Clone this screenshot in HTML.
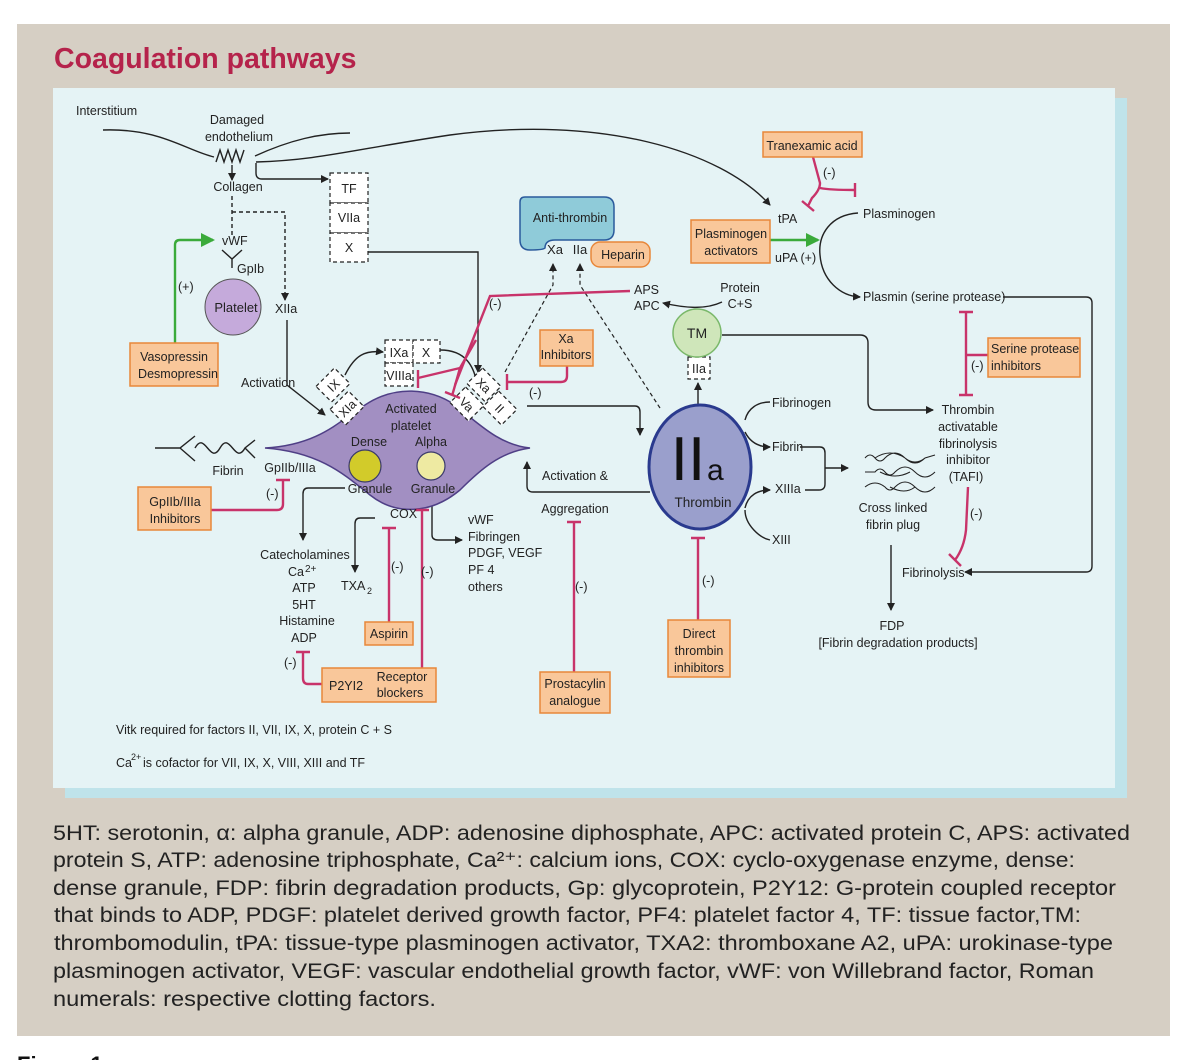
<!DOCTYPE html>
<html><head><meta charset="utf-8"><style>
html,body{margin:0;padding:0;background:#fff;}
svg{display:block;font-family:"Liberation Sans",Arial,sans-serif;}
</style></head><body>
<svg width="1200" height="1060" viewBox="0 0 1200 1060" xmlns="http://www.w3.org/2000/svg">
<defs>
<marker id="ah" markerWidth="8" markerHeight="8" refX="7" refY="4" orient="auto" markerUnits="userSpaceOnUse"><path d="M0,0 L8,4 L0,8 z" fill="#222"/></marker>
<marker id="ag" markerWidth="14" markerHeight="14" refX="12" refY="7" orient="auto" markerUnits="userSpaceOnUse"><path d="M0,0 L14,7 L0,14 z" fill="#3aaa3a"/></marker>
</defs>
<rect x="17" y="24" width="1153" height="1012" fill="#d6cfc4"/>
<text x="54" y="68" font-size="28.5" font-weight="bold" fill="#b5234b">Coagulation pathways</text>
<rect x="65" y="98" width="1062" height="700" fill="#bfe3ea"/>
<rect x="53" y="88" width="1062" height="700" fill="#e5f3f5"/>

<g font-size="12.5" fill="#222" stroke="none">
<text x="76" y="115">Interstitium</text>
<text x="237" y="124" text-anchor="middle">Damaged</text>
<text x="239" y="141" text-anchor="middle">endothelium</text>
<text x="238" y="191" text-anchor="middle">Collagen</text>
<text x="222" y="245">vWF</text>
<text x="237" y="273">GpIb</text>
<text x="178" y="291">(+)</text>
<text x="275" y="313">XIIa</text>
<text x="241" y="387">Activation</text>
</g>
<g fill="none" stroke="#222" stroke-width="1.4">
<path d="M103,130 C160,128 185,150 214,157"/>
<path d="M255,156 C290,140 320,133 350,133"/>
<path d="M216,162 l4,-12 l4,12 l4,-12 l4,12 l4,-12 l4,12 l4,-12"/>
<path d="M256,162 C320,160 350,150 450,135 C600,115 720,150 770,205" marker-end="url(#ah)"/>
<path d="M256,163 L256,173 Q256,179 262,179 L328,179" marker-end="url(#ah)"/>
<path d="M232,165 L232,180" marker-end="url(#ah)"/>
<path d="M232,196 L232,235" stroke-dasharray="4,3"/>
<path d="M232,212 L285,212 L285,300" stroke-dasharray="4,3" marker-end="url(#ah)"/>
<path d="M222,250 L232,259 L242,250 M232,259 L232,268"/>
<path d="M287,320 L287,385 L325,415" marker-end="url(#ah)"/>
<path d="M345,375 C355,355 365,350 383,352" marker-end="url(#ah)"/>
<path d="M440,350 C465,350 475,365 478,390" marker-end="url(#ah)"/>
<path d="M368,252 L478,252 L478,372" marker-end="url(#ah)"/>
<path d="M527,406 L635,406 Q640,406 640,412 L640,435" marker-end="url(#ah)"/>
<path d="M650,492 L533,492 Q527,492 527,486 L527,462" marker-end="url(#ah)"/>
<path d="M345,488 L308,488 Q303,488 303,494 L303,540" marker-end="url(#ah)"/>
<path d="M375,518 L360,518 Q355,518 355,524 L355,572" marker-end="url(#ah)"/>
<path d="M432,500 L432,535 Q432,540 438,540 L462,540" marker-end="url(#ah)"/>
<path d="M698,405 L698,383" marker-end="url(#ah)"/>
<path d="M722,302 C705,310 685,308 663,303" marker-end="url(#ah)"/>
<path d="M722,335 L860,335 Q868,335 868,343 L868,402 Q868,410 876,410 L933,410" marker-end="url(#ah)"/>
<path d="M745,420 C748,408 758,402 770,402"/>
<path d="M745,432 C750,442 758,447 770,447" marker-end="url(#ah)"/>
<path d="M745,508 C748,495 758,490 770,490" marker-end="url(#ah)"/>
<path d="M745,510 C745,525 760,538 770,540"/>
<path d="M800,447 L820,447 Q825,447 825,453 L825,484 Q825,490 819,490 L805,490"/>
<path d="M825,468 L848,468" marker-end="url(#ah)"/>
<path d="M891,545 L891,610" marker-end="url(#ah)"/>
<path d="M858,213 C830,215 818,235 820,255 C822,280 840,296 860,297" marker-end="url(#ah)"/>
<path d="M1003,297 L1086,297 Q1092,297 1092,303 L1092,566 Q1092,572 1086,572 L965,572" marker-end="url(#ah)"/>
<path d="M155,448 L180,448 L195,436 M180,448 L195,461"/>
<path d="M195,448 C205,430 210,466 220,448 C230,430 235,466 245,448 L255,440 M245,448 L255,458"/>
</g>
<g fill="none" stroke="#222" stroke-width="1.2" stroke-dasharray="4,3">
<path d="M505,372 L553,285 L553,264" marker-end="url(#ah)"/>
<path d="M660,408 L580,285 L580,264" marker-end="url(#ah)"/>
<rect x="330" y="173" width="38" height="30" fill="#fff"/>
<rect x="330" y="203" width="38" height="30" fill="#fff"/>
<rect x="330" y="233" width="38" height="29" fill="#fff"/>
<rect x="385" y="340" width="28" height="23" fill="#fff"/>
<rect x="413" y="340" width="27" height="23" fill="#fff"/>
<rect x="385" y="363" width="28" height="23" fill="#fff"/>
<rect x="688" y="357" width="22" height="22" fill="#fff"/>
</g>
<g font-size="12.5" fill="#222">
<text x="349" y="193" text-anchor="middle">TF</text>
<text x="349" y="222" text-anchor="middle">VIIa</text>
<text x="349" y="252" text-anchor="middle">X</text>
<text x="399" y="357" text-anchor="middle">IXa</text>
<text x="426" y="357" text-anchor="middle">X</text>
<text x="399" y="380" text-anchor="middle">VIIIa</text>
<text x="699" y="373" text-anchor="middle">IIa</text>
</g>
<path d="M265,448 C320,445 340,420 365,405 C395,385 430,388 455,405 C480,425 500,445 530,448 C500,452 480,470 460,490 C430,515 395,515 370,495 C345,475 320,452 265,448 z" fill="#a28fc2" stroke="#4f3f86" stroke-width="1.5"/>
<circle cx="365" cy="466" r="16" fill="#d2cb2a" stroke="#3a3a6a" stroke-width="1.2"/>
<circle cx="431" cy="466" r="14" fill="#eeeaa2" stroke="#3a3a6a" stroke-width="1.2"/>
<g font-size="12.5" fill="#222" text-anchor="middle">
<text x="411" y="413">Activated</text>
<text x="411" y="430">platelet</text>
<text x="369" y="446">Dense</text>
<text x="431" y="446">Alpha</text>
<text x="370" y="493">Granule</text>
<text x="433" y="493">Granule</text>
</g>
<g font-size="12.5" fill="#222" stroke="#222" stroke-width="1.2">
<g transform="translate(333,385) rotate(-45)"><rect x="-13" y="-11" width="26" height="22" fill="#fff" stroke-dasharray="4,3"/><text x="0" y="5" text-anchor="middle" stroke="none">IX</text></g>
<g transform="translate(347,408) rotate(-45)"><rect x="-13" y="-11" width="26" height="22" fill="#fff" stroke-dasharray="4,3"/><text x="0" y="5" text-anchor="middle" stroke="none">XIa</text></g>
<g transform="translate(484,385) rotate(45)"><rect x="-13" y="-11" width="26" height="22" fill="#fff" stroke-dasharray="4,3"/><text x="0" y="5" text-anchor="middle" stroke="none">Xa</text></g>
<g transform="translate(467,404) rotate(45)"><rect x="-13" y="-11" width="26" height="22" fill="#fff" stroke-dasharray="4,3"/><text x="0" y="5" text-anchor="middle" stroke="none">Va</text></g>
<g transform="translate(500,408) rotate(45)"><rect x="-13" y="-11" width="26" height="22" fill="#fff" stroke-dasharray="4,3"/><text x="0" y="5" text-anchor="middle" stroke="none">II</text></g>
</g>
<circle cx="233" cy="307" r="28" fill="#c5aadb" stroke="#555" stroke-width="1"/>
<text x="236" y="312" font-size="13" text-anchor="middle" fill="#222">Platelet</text>
<path d="M525,197 L604,197 Q614,197 614,207 L614,230 Q614,240 604,240 L555,240 Q545,240 545,248 Q543,250 530,250 Q520,250 520,240 L520,202 Q520,197 525,197 z" fill="#8fcbd9" stroke="#2a5a9c" stroke-width="1.5"/>
<text x="570" y="222" font-size="12.5" text-anchor="middle" fill="#222">Anti-thrombin</text>
<text x="555" y="254" font-size="13" text-anchor="middle" fill="#222">Xa</text>
<text x="580" y="254" font-size="13" text-anchor="middle" fill="#222">IIa</text>
<rect x="591" y="242" width="59" height="25" rx="9" fill="#f9c79a" stroke="#e8873a" stroke-width="1.5"/>
<text x="623" y="259" font-size="12.5" text-anchor="middle" fill="#222">Heparin</text>
<ellipse cx="700" cy="467" rx="51" ry="62" fill="#9a9fcc" stroke="#2a3a8e" stroke-width="3"/>
<text x="688" y="480" font-size="62" text-anchor="middle" fill="#111">II</text>
<text x="707" y="480" font-size="30" fill="#111">a</text>
<text x="703" y="507" font-size="13.5" text-anchor="middle" fill="#222">Thrombin</text>
<circle cx="697" cy="333" r="24" fill="#cfe6ba" stroke="#7ab86a" stroke-width="1.5"/>
<text x="697" y="338" font-size="14" text-anchor="middle" fill="#222">TM</text>
<g fill="none" stroke="#222" stroke-width="1">
<path d="M865,458 q5,-6 10,0 q5,6 10,0 q10,-10 20,0 q10,10 20,0 l10,-3 M875,458 q15,-10 30,0 q10,8 20,0"/>
<path d="M865,472 l10,0 q5,-6 10,0 q5,6 10,0 q10,-10 20,0 q10,10 20,0 M880,472 q15,8 30,0"/>
<path d="M865,487 q10,-8 20,0 q5,6 10,0 q10,-10 20,0 q10,10 20,0 M890,487 q15,8 25,0"/>
</g>
<g fill="none" stroke="#c8336a" stroke-width="2.4">
<path d="M630,291 L490,296 L455,385"/>
<path d="M476,340 L460,368 L418,378 M418,370 L418,388"/>
<path d="M460,368 L452,396 M445,392 L460,398"/>
<path d="M567,366 L567,376 Q567,382 561,382 L507,382 M507,374 L507,390"/>
<path d="M211,510 L277,510 Q283,510 283,504 L283,480 M276,480 L290,480"/>
<path d="M389,622 L389,528 M382,528 L396,528"/>
<path d="M422,668 L422,510 M415,510 L429,510"/>
<path d="M322,684 L308,684 Q303,684 303,678 L303,652 M296,652 L310,652"/>
<path d="M574,672 L574,522 M567,522 L581,522"/>
<path d="M698,620 L698,538 M691,538 L705,538"/>
<path d="M813,157 L820,183 Q820,190 812,198 L808,206 M802,201 L814,211"/>
<path d="M820,188 Q830,190 855,190 M855,183 L855,197"/>
<path d="M966,312 L966,395 M959,312 L973,312 M959,395 L973,395 M966,355 L990,355"/>
<path d="M968,487 L966,530 Q964,548 955,560 M949,554 L961,566"/>
</g>
<path d="M175,343 L175,245 Q175,240 180,240 L213,240" fill="none" stroke="#3aaa3a" stroke-width="2.4" marker-end="url(#ag)"/>
<path d="M770,240 L818,240" fill="none" stroke="#3aaa3a" stroke-width="2.4" marker-end="url(#ag)"/>
<g fill="#f9c79a" stroke="#e8873a" stroke-width="1.5">
<rect x="130" y="343" width="88" height="43"/>
<rect x="540" y="330" width="53" height="36"/>
<rect x="138" y="487" width="73" height="43"/>
<rect x="365" y="622" width="48" height="23"/>
<rect x="322" y="668" width="114" height="34"/>
<rect x="540" y="672" width="70" height="41"/>
<rect x="668" y="620" width="62" height="57"/>
<rect x="763" y="132" width="99" height="25"/>
<rect x="691" y="220" width="79" height="43"/>
<rect x="988" y="338" width="92" height="39"/>
</g>
<g font-size="12.5" fill="#222">
<text x="174" y="361" text-anchor="middle">Vasopressin</text>
<text x="178" y="378" text-anchor="middle">Desmopressin</text>
<text x="566" y="343" text-anchor="middle">Xa</text>
<text x="566" y="359" text-anchor="middle">Inhibitors</text>
<text x="175" y="506" text-anchor="middle">GpIIb/IIIa</text>
<text x="175" y="523" text-anchor="middle">Inhibitors</text>
<text x="389" y="638" text-anchor="middle">Aspirin</text>
<text x="329" y="690">P2YI2</text>
<text x="402" y="681" text-anchor="middle">Receptor</text>
<text x="400" y="697" text-anchor="middle">blockers</text>
<text x="575" y="688" text-anchor="middle">Prostacylin</text>
<text x="575" y="705" text-anchor="middle">analogue</text>
<text x="699" y="638" text-anchor="middle">Direct</text>
<text x="699" y="655" text-anchor="middle">thrombin</text>
<text x="699" y="672" text-anchor="middle">inhibitors</text>
<text x="812" y="150" text-anchor="middle">Tranexamic acid</text>
<text x="731" y="238" text-anchor="middle">Plasminogen</text>
<text x="731" y="255" text-anchor="middle">activators</text>
<text x="991" y="353">Serine protease</text>
<text x="991" y="370">inhibitors</text>
<text x="290" y="472" text-anchor="middle">GpIIb/IIIa</text>
<text x="228" y="475" text-anchor="middle">Fibrin</text>
<text x="266" y="498">(-)</text>
<text x="489" y="308">(-)</text>
<text x="529" y="397">(-)</text>
<text x="390" y="518">COX</text>
<text x="305" y="559" text-anchor="middle">Catecholamines</text>
<text x="288" y="576">Ca</text><text x="305" y="572" font-size="10">2+</text>
<text x="304" y="592" text-anchor="middle">ATP</text>
<text x="304" y="609" text-anchor="middle">5HT</text>
<text x="307" y="625" text-anchor="middle">Histamine</text>
<text x="304" y="642" text-anchor="middle">ADP</text>
<text x="341" y="590">TXA</text><text x="367" y="594" font-size="9">2</text>
<text x="391" y="571">(-)</text>
<text x="421" y="576">(-)</text>
<text x="284" y="667">(-)</text>
<text x="468" y="524">vWF</text>
<text x="468" y="541">Fibringen</text>
<text x="468" y="557">PDGF, VEGF</text>
<text x="468" y="574">PF 4</text>
<text x="468" y="591">others</text>
<text x="575" y="480" text-anchor="middle">Activation &amp;</text>
<text x="575" y="513" text-anchor="middle">Aggregation</text>
<text x="575" y="591">(-)</text>
<text x="702" y="585">(-)</text>
<text x="634" y="294">APS</text>
<text x="634" y="310">APC</text>
<text x="740" y="292" text-anchor="middle">Protein</text>
<text x="740" y="308" text-anchor="middle">C+S</text>
<text x="772" y="407">Fibrinogen</text>
<text x="772" y="451">Fibrin</text>
<text x="775" y="493">XIIIa</text>
<text x="772" y="544">XIII</text>
<text x="893" y="512" text-anchor="middle">Cross linked</text>
<text x="893" y="529" text-anchor="middle">fibrin plug</text>
<text x="892" y="630" text-anchor="middle">FDP</text>
<text x="898" y="647" text-anchor="middle">[Fibrin degradation products]</text>
<text x="778" y="223">tPA</text>
<text x="775" y="262">uPA (+)</text>
<text x="823" y="177">(-)</text>
<text x="863" y="218">Plasminogen</text>
<text x="863" y="301">Plasmin (serine protease)</text>
<text x="971" y="370">(-)</text>
<text x="968" y="414" text-anchor="middle">Thrombin</text>
<text x="968" y="431" text-anchor="middle">activatable</text>
<text x="968" y="448" text-anchor="middle">fibrinolysis</text>
<text x="968" y="464" text-anchor="middle">inhibitor</text>
<text x="966" y="481" text-anchor="middle">(TAFI)</text>
<text x="970" y="518">(-)</text>
<text x="902" y="577">Fibrinolysis</text>
<text x="116" y="734">Vitk required for factors   II, VII, IX, X, protein C + S</text>
<text x="116" y="767">Ca</text><text x="131" y="760" font-size="9">2+</text><text x="143" y="767">is cofactor for   VII, IX, X, VIII, XIII and TF</text>
</g>
<g font-size="21.5" fill="#222">
<text x="53" y="840" textLength="1077" lengthAdjust="spacingAndGlyphs">5HT: serotonin, α: alpha granule, ADP: adenosine diphosphate, APC: activated protein C, APS: activated</text>
<text x="53" y="867" textLength="1022" lengthAdjust="spacingAndGlyphs">protein S, ATP: adenosine triphosphate, Ca²⁺: calcium ions, COX: cyclo-oxygenase enzyme, dense:</text>
<text x="53" y="895" textLength="1063" lengthAdjust="spacingAndGlyphs">dense granule, FDP: fibrin degradation products, Gp: glycoprotein, P2Y12: G-protein coupled receptor</text>
<text x="54" y="922" textLength="1027" lengthAdjust="spacingAndGlyphs">that binds to ADP, PDGF: platelet derived growth factor, PF4: platelet factor 4, TF: tissue factor,TM:</text>
<text x="54" y="950" textLength="1059" lengthAdjust="spacingAndGlyphs">thrombomodulin, tPA: tissue-type plasminogen activator, TXA2: thromboxane A2, uPA: urokinase-type</text>
<text x="53" y="978" textLength="1041" lengthAdjust="spacingAndGlyphs">plasminogen activator, VEGF: vascular endothelial growth factor, vWF: von Willebrand factor, Roman</text>
<text x="53" y="1006" textLength="383" lengthAdjust="spacingAndGlyphs">numerals: respective clotting factors.</text>
</g>
<text x="17" y="1072" font-size="22" font-weight="bold" fill="#111">Figure 1</text>
</svg>
</body></html>
